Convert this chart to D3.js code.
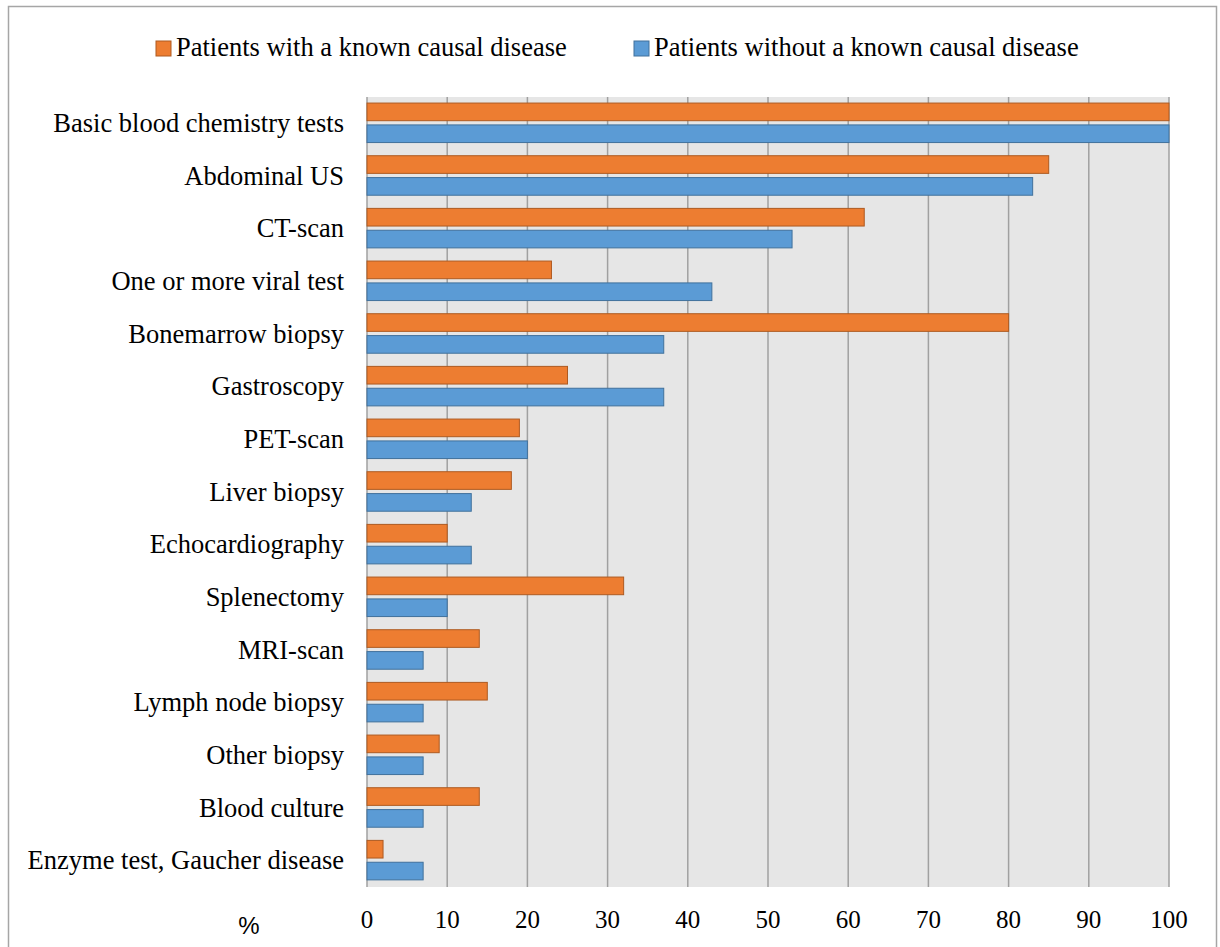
<!DOCTYPE html>
<html lang="en">
<head>
  <meta charset="UTF-8">
  <title>Diagnostic tests</title>
  <script src="https://d3js.org/d3.v7.min.js"></script>
  <style>
    body {
      margin: 0;
      padding: 0;
      background: #fff;
    }
    svg text {
      font-family: 'Liberation Serif', 'Times New Roman', serif;
      fill: #000;
    }
  </style>
</head>
<body>
  <svg id="chart" width="1220" height="947"></svg>
  <script>
    // Données (%)
    const categories = [
      "Basic blood chemistry tests",
      "Abdominal US",
      "CT-scan",
      "One or more viral test",
      "Bonemarrow biopsy",
      "Gastroscopy",
      "PET-scan",
      "Liver biopsy",
      "Echocardiography",
      "Splenectomy",
      "MRI-scan",
      "Lymph node biopsy",
      "Other biopsy",
      "Blood culture",
      "Enzyme test, Gaucher disease"
    ];
    const withCause = [100, 85, 62, 23, 80, 25, 19, 18, 10, 32, 14, 15, 9, 14, 2];
    const withoutCause = [100, 83, 53, 43, 37, 37, 20, 13, 13, 10, 7, 7, 7, 7, 7];
    const seriesNames = ["Patients with a known causal disease", "Patients without a known causal disease"];
    const xTicks = [0, 10, 20, 30, 40, 50, 60, 70, 80, 90, 100];

    const colors = ["#ED7D31", "#5B9BD5"];
    const strokes = ["#AE5A21", "#41719C"];

    const svg = d3.select('#chart');

    // cadre
    svg.append('rect')
      .attr('x', 8.5).attr('y', 6.5)
      .attr('width', 1208).attr('height', 950)
      .attr('fill', 'none')
      .attr('stroke', '#a6a6a6')
      .attr('stroke-width', 1.5);

    const plot = { left: 367, right: 1169, top: 97, bottom: 887 };

    const x = d3.scaleLinear()
      .domain([0, 100])
      .range([plot.left, plot.right]);

    const y = d3.scaleBand()
      .domain(categories)
      .range([plot.top, plot.bottom]);

    // fond de la zone de tracé
    svg.append('rect')
      .attr('x', plot.left).attr('y', plot.top)
      .attr('width', plot.right - plot.left)
      .attr('height', plot.bottom - plot.top)
      .attr('fill', '#e6e6e6');

    // grille verticale
    svg.append('g')
      .selectAll('line')
      .data(xTicks)
      .enter()
      .append('line')
      .attr('x1', d => x(d)).attr('x2', d => x(d))
      .attr('y1', plot.top).attr('y2', plot.bottom)
      .attr('stroke', '#a0a0a0')
      .attr('stroke-width', 1.5);

    // barres
    const band = y.bandwidth();
    const barH = band * 0.335;
    const offsets = [band * 0.115, band * 0.53];

    [withCause, withoutCause].forEach((values, s) => {
      svg.append('g')
        .selectAll('rect')
        .data(values)
        .enter()
        .append('rect')
        .attr('x', x(0))
        .attr('y', (d, i) => y(categories[i]) + offsets[s])
        .attr('width', d => x(d) - x(0))
        .attr('height', barH)
        .attr('fill', colors[s])
        .attr('stroke', strokes[s])
        .attr('stroke-width', 1);
    });

    // étiquettes des catégories
    svg.append('g')
      .selectAll('text')
      .data(categories)
      .enter()
      .append('text')
      .attr('x', 344)
      .attr('y', d => y(d) + band / 2 + 8.5)
      .attr('text-anchor', 'end')
      .style('font-size', '26.5px')
      .text(d => d);

    // graduations de l'axe x
    svg.append('g')
      .selectAll('text')
      .data(xTicks)
      .enter()
      .append('text')
      .attr('x', d => x(d))
      .attr('y', 928)
      .attr('text-anchor', 'middle')
      .style('font-size', '25px')
      .text(d => d);

    svg.append('text')
      .attr('x', 249)
      .attr('y', 934)
      .attr('text-anchor', 'middle')
      .style('font-family', "'Liberation Sans', Arial, sans-serif")
      .style('font-size', '24px')
      .text('%');

    // légende
    const legendX = [156, 634];
    seriesNames.forEach((name, s) => {
      svg.append('rect')
        .attr('x', legendX[s]).attr('y', 41)
        .attr('width', 15).attr('height', 15)
        .attr('fill', colors[s])
        .attr('stroke', strokes[s]);
      svg.append('text')
        .attr('x', legendX[s] + 20)
        .attr('y', 56)
        .style('font-size', '26.5px')
        .text(name);
    });
  </script>
</body>
</html>
